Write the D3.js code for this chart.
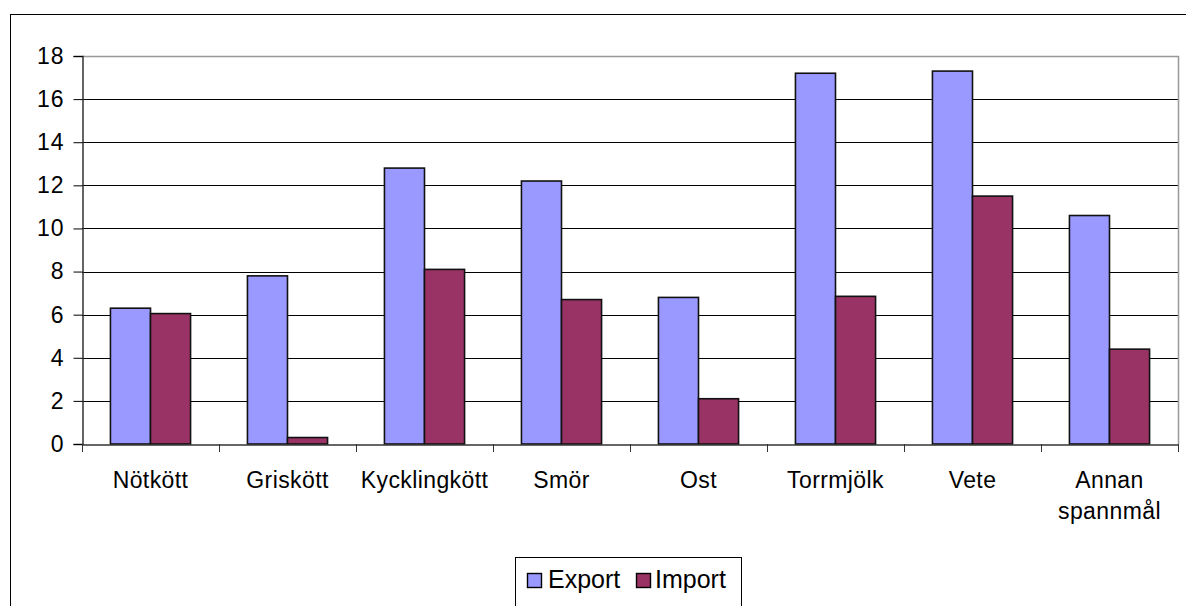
<!DOCTYPE html>
<html>
<head>
<meta charset="utf-8">
<title>Export och import</title>
<script src="https://d3js.org/d3.v7.min.js"></script>
<style>
  body { margin: 0; background: #fff; }
  svg { display: block; font-family: "Liberation Sans", Arial, sans-serif; }
</style>
</head>
<body>
<div id="chart"></div>
<script>
// data
var categories = ["Nötkött", "Griskött", "Kycklingkött", "Smör", "Ost", "Torrmjölk", "Vete", "Annan spannmål"];
var exportValues = [6.3, 7.8, 12.8, 12.2, 6.8, 17.2, 17.3, 10.6];
var importValues = [6.05, 0.3, 8.1, 6.7, 2.1, 6.85, 11.5, 4.4];
var seriesNames = ["Export", "Import"];
var seriesColors = ["#9999ff", "#993366"];
var yTicks = [0, 2, 4, 6, 8, 10, 12, 14, 16, 18];

var width = 1186, height = 606;
var plot = {left: 82, right: 1178, top: 56, bottom: 444};

var svg = d3.select("#chart").append("svg")
    .attr("width", width)
    .attr("height", height);

// outer chart border
svg.append("rect")
    .attr("x", 10.5).attr("y", 14.5)
    .attr("width", 1200).attr("height", 700)
    .attr("fill", "#fff")
    .attr("stroke", "#000");

var x0 = d3.scaleBand().domain(categories).range([plot.left, plot.right]).padding(0);
var x1 = d3.scaleBand().domain(seriesNames).range([0, x0.bandwidth()]).paddingInner(0).paddingOuter(0.71);
var y = d3.scaleLinear().domain([0, 18]).range([plot.bottom, plot.top]);

// gridlines
svg.append("g")
  .selectAll("line")
  .data(yTicks.filter(function(d) { return d > 0 && d < 18; }))
  .enter().append("line")
    .attr("x1", plot.left).attr("x2", plot.right)
    .attr("y1", function(d) { return Math.round(y(d)) + 0.5; })
    .attr("y2", function(d) { return Math.round(y(d)) + 0.5; })
    .attr("stroke", "#000");

// plot area border (top / right)
svg.append("path")
    .attr("d", "M" + plot.left + "," + (plot.top + 0.5) + "H" + (plot.right + 0.5) + "V" + plot.bottom)
    .attr("fill", "none")
    .attr("stroke", "#999")
    .attr("stroke-width", 1.5);

// bars
var rows = categories.map(function(c, i) {
  return {cat: c, values: [exportValues[i], importValues[i]]};
});

var groups = svg.append("g").selectAll("g")
  .data(rows)
  .enter().append("g")
    .attr("transform", function(d) { return "translate(" + x0(d.cat) + ",0)"; });

groups.selectAll("rect")
  .data(function(d) { return d.values.map(function(v, j) { return {s: seriesNames[j], v: v, j: j}; }); })
  .enter().append("rect")
    .attr("x", function(d) { return x1(d.s); })
    .attr("y", function(d) { return y(d.v); })
    .attr("width", x1.bandwidth())
    .attr("height", function(d) { return y(0) - y(d.v); })
    .attr("fill", function(d) { return seriesColors[d.j]; })
    .attr("stroke", "#111")
    .attr("stroke-width", 1.6);

// y axis
var yAxis = svg.append("g")
    .attr("transform", "translate(" + (plot.left + 0.5) + ",0)")
    .call(d3.axisLeft(y).tickValues(yTicks).tickSize(9).tickPadding(10));
yAxis.select(".domain").attr("stroke", "#333").attr("stroke-width", 1.5);
yAxis.selectAll(".tick line").attr("stroke", "#000");
yAxis.selectAll("text").attr("font-size", 23).attr("fill", "#000")
    .attr("letter-spacing", 1)
    .attr("dx", 1)
    .attr("font-family", "Liberation Sans, Arial, sans-serif");

// x axis
var xAxis = svg.append("g")
    .attr("transform", "translate(0," + (plot.bottom + 0.5) + ")")
    .call(d3.axisBottom(x0).tickSize(0).tickFormat(""));
xAxis.select(".domain").attr("stroke", "#333").attr("stroke-width", 1.5);

// category boundary ticks
svg.append("g").selectAll("line")
  .data(categories.concat(["end"]))
  .enter().append("line")
    .attr("x1", function(d, i) { return Math.round(plot.left + i * x0.step()) + 0.5; })
    .attr("x2", function(d, i) { return Math.round(plot.left + i * x0.step()) + 0.5; })
    .attr("y1", plot.bottom)
    .attr("y2", plot.bottom + 8)
    .attr("stroke", "#333");

// category labels
var labels = svg.append("g").selectAll("text")
  .data(categories)
  .enter().append("text")
    .attr("x", function(d) { return x0(d) + x0.bandwidth() / 2; })
    .attr("y", 488)
    .attr("text-anchor", "middle")
    .attr("font-size", 23)
    .attr("letter-spacing", 0.4)
    .attr("fill", "#000");
labels.each(function(d) {
  var words = d === "Annan spannmål" ? ["Annan", "spannmål"] : [d];
  var t = d3.select(this);
  words.forEach(function(w, k) {
    t.append("tspan")
      .attr("x", t.attr("x"))
      .attr("dy", k === 0 ? 0 : 31)
      .text(w);
  });
});

// legend
var legend = svg.append("g");
legend.append("rect")
    .attr("x", 515.5).attr("y", 557.5)
    .attr("width", 226).attr("height", 80)
    .attr("fill", "#fff")
    .attr("stroke", "#000");

var legendX = [527, 636];
seriesNames.forEach(function(s, i) {
  legend.append("rect")
    .attr("x", legendX[i] + 0.5).attr("y", 573.5)
    .attr("width", 14).attr("height", 14)
    .attr("fill", seriesColors[i])
    .attr("stroke", "#000")
    .attr("stroke-width", 1.4);
  legend.append("text")
    .attr("x", legendX[i] + (i === 0 ? 21 : 19))
    .attr("y", 588)
    .attr("font-size", 25)
    .attr("fill", "#000")
    .text(s);
});
</script>
</body>
</html>
